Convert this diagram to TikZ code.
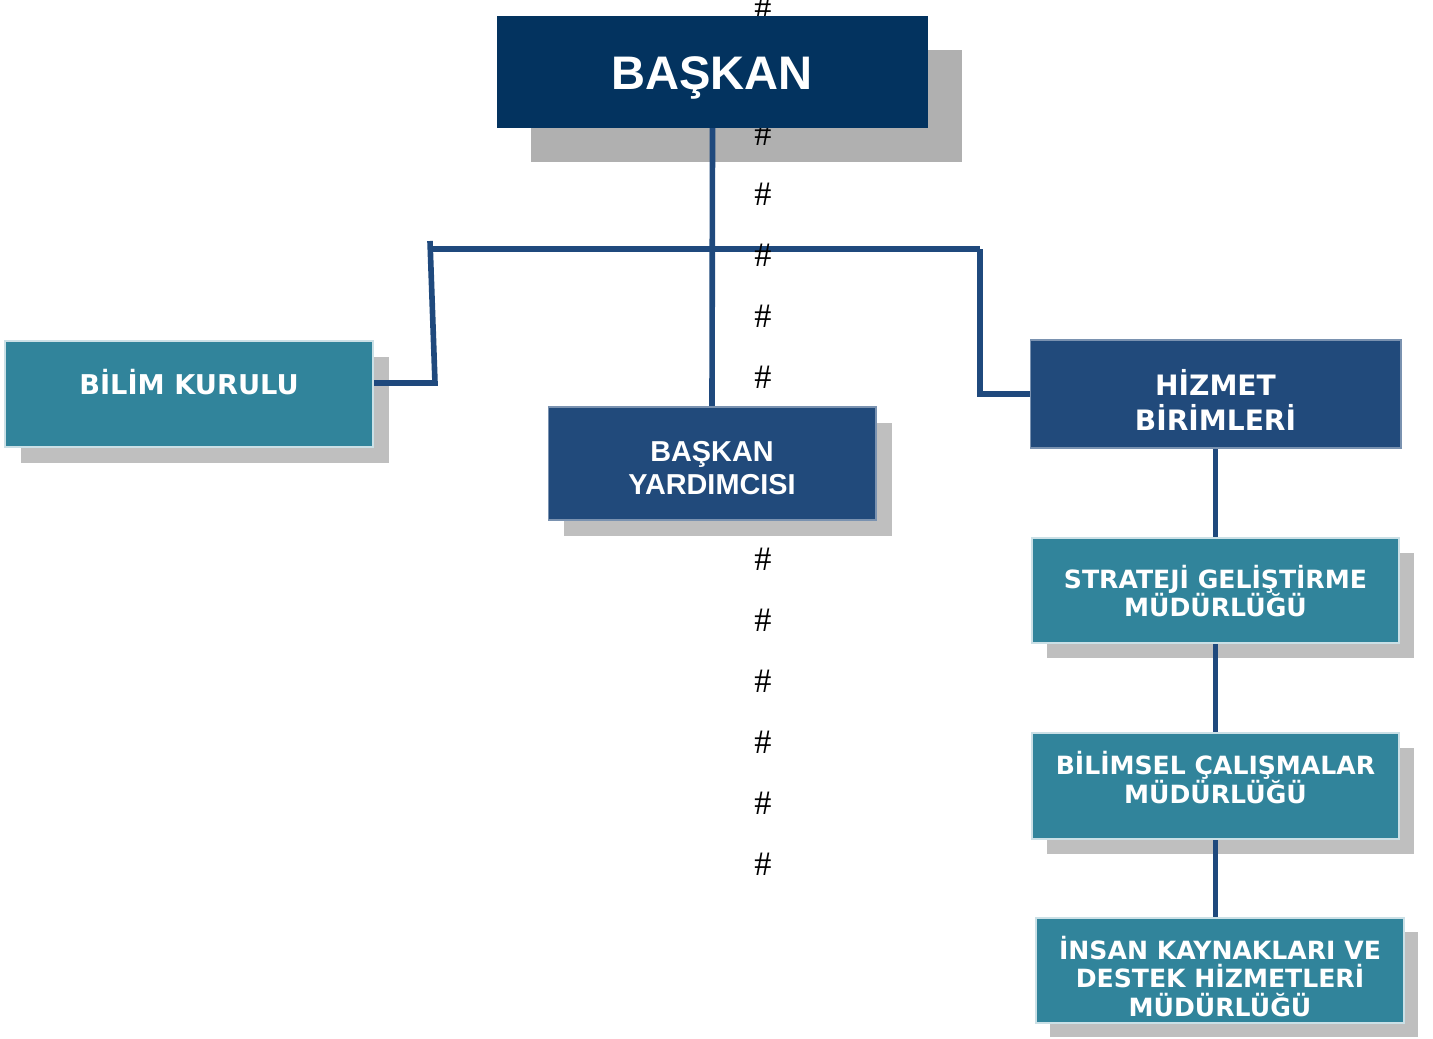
\documentclass[tikz,border=0pt]{standalone}
\usepackage{fontspec}
\setmainfont{Liberation Sans}
\newfontfamily\dvfont{DejaVu Sans}
\newfontfamily\hashfont{Liberation Serif}
\usetikzlibrary{backgrounds}
\definecolor{navy}{HTML}{03335F}
\definecolor{dblue}{HTML}{214A7B}
\definecolor{teal}{HTML}{31849B}
\definecolor{linec}{HTML}{1F497D}
\pgfdeclarelayer{bg}
\pgfdeclarelayer{mid}
\pgfsetlayers{bg,mid,main}
\begin{document}
\begin{tikzpicture}[x=0.02cm,y=-0.02cm,
  boxbase/.style={rectangle, inner sep=0pt, outer sep=0pt},
  navybox/.style={boxbase, fill=navy},
  bluebox/.style={boxbase, fill=dblue, draw=dblue!60!white, line width=0.6pt},
  tealbox/.style={boxbase, fill=teal, draw=teal!25!white, line width=1.1pt},
  shadowbig/.style={fill=black!31},
  shadowsm/.style={fill=black!25},
  conn/.style={draw=linec, line width=3.2pt},
  hashmark/.style={font=\hashfont\fontsize{19.5}{19.5}\selectfont, inner sep=0pt},
  dvtext/.style={text=white, align=center, inner sep=0pt, font=\dvfont\bfseries\fontsize{14.3}{16.2}\selectfont},
  artext/.style={text=white, align=center, inner sep=0pt, font=\bfseries\fontsize{16.4}{18.7}\selectfont}
]
\useasboundingbox (0,0) rectangle (1433,1038);

% boxes
\node[navybox, minimum width=8.62cm, minimum height=2.24cm] (bas) at (712.5,72) {};
\node[tealbox, minimum width=7.36cm, minimum height=2.12cm] (bk) at (189,394) {};
\node[bluebox, minimum width=6.56cm, minimum height=2.26cm] (by) at (712,463.5) {};
\node[bluebox, minimum width=7.42cm, minimum height=2.16cm] (hb) at (1215.5,394) {};
\node[tealbox, minimum width=7.34cm, minimum height=2.10cm] (sg) at (1215.5,590.5) {};
\node[tealbox, minimum width=7.34cm, minimum height=2.12cm] (bc) at (1215.5,786) {};
\node[tealbox, minimum width=7.36cm, minimum height=2.10cm] (ik) at (1220,970.5) {};

% texts
\node[artext, font=\bfseries\fontsize{26.8}{30}\selectfont] (bas-t) at (712,78) {BAŞKAN};
\node[dvtext, font=\dvfont\bfseries\fontsize{15.5}{18}\selectfont] (bk-t) at (189,382) {BİLİM KURULU};
\node[artext] (by-t) at (712,468) {BAŞKAN\\YARDIMCISI};
\node[dvtext, font=\dvfont\bfseries\fontsize{16}{20.4}\selectfont] (hb-t) at (1215.5,400) {HİZMET\\BİRİMLERİ};
\node[dvtext] (sg-t) at (1215.5,591) {STRATEJİ GELİŞTİRME\\MÜDÜRLÜĞÜ};
\node[dvtext] (bc-t) at (1215.5,777.5) {BİLİMSEL ÇALIŞMALAR\\MÜDÜRLÜĞÜ};
\node[dvtext] (ik-t) at (1220,976.5) {İNSAN KAYNAKLARI VE\\DESTEK HİZMETLERİ\\MÜDÜRLÜĞÜ};

% shadows
\begin{pgfonlayer}{bg}
  \fill[shadowbig] ([shift={(34,34)}]bas.north west) rectangle ([shift={(34,34)}]bas.south east);
  \foreach \n/\d in {bk/16, by/16, sg/15, bc/15, ik/14}{
    \fill[shadowsm] ([shift={(\d,\d)}]\n.north west) rectangle ([shift={(\d,\d)}]\n.south east);
  }
\end{pgfonlayer}

% connectors and hash marks
\begin{pgfonlayer}{mid}
  \coordinate (busL) at (430,249);
  \coordinate (busLtop) at (430,241);
  \coordinate (busR) at (980,249);
  \coordinate (bkj) at (435,383);
  \draw[conn] (bas.south) -- (by.north);
  \draw[conn] (busL) -- (busR);
  \draw[conn] (bk.east |- bkj) -- (bkj) -- (busLtop);
  \draw[conn] (busR) |- (hb.west);
  \draw[conn] (hb.south) -- (sg.north);
  \draw[conn] (sg.south) -- (bc.north);
  \draw[conn] (bc.south) -- (bc.south |- ik.north);
  \foreach \i/\yy in {1/8, 2/134, 3/194, 4/255, 5/316, 6/377, 7/559, 8/620, 9/681, 10/742, 11/803, 12/864}{
    \node[hashmark] (hash\i) at (763,\yy) {\#};
  }
\end{pgfonlayer}
\end{tikzpicture}
\end{document}
